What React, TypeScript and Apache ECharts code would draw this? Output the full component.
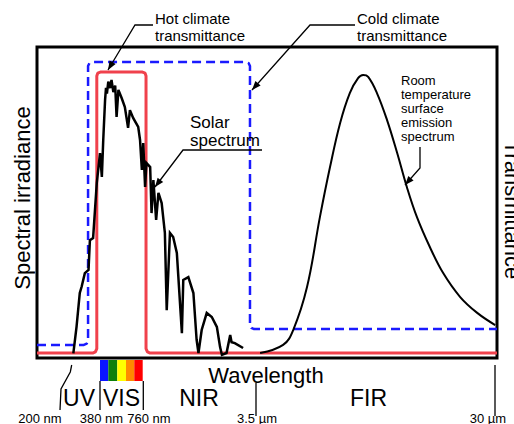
import React, { useEffect, useRef } from "react";
import * as echarts from "echarts";

// Schematic wavelength position (0-100 across the plot) vs relative intensity (0-100)
const solarX = [7.9, 8.6, 9.3, 9.7, 10.4, 11.2, 11.5, 12.2, 13.0, 13.7, 14.1, 14.4, 14.8, 15.0, 15.2, 15.5, 15.9, 16.2, 16.6, 17.0, 17.3, 17.7, 18.4, 19.1, 19.8, 20.2, 20.9, 22.0, 22.4, 22.8, 23.1, 23.5, 23.8, 24.6, 24.9, 25.3, 25.9, 26.4, 27.1, 27.8, 28.2, 28.9, 29.6, 30.4, 31.5, 31.8, 32.9, 34.0, 34.7, 35.1, 35.8, 36.9, 38.0, 39.1, 39.8, 40.2, 41.2, 42.0, 42.3, 43.0, 44.8];
const solarY = [1.5, 10.1, 20.9, 22.9, 27.3, 28.3, 37.9, 38.6, 56.3, 65.9, 58.2, 70.1, 83.0, 86.9, 85.0, 88.9, 86.8, 89.4, 85.5, 87.6, 77.5, 86.2, 83.6, 80.7, 74.0, 79.7, 77.2, 74.3, 70.1, 60.5, 69.1, 55.0, 62.7, 61.4, 46.6, 57.2, 44.4, 53.1, 49.8, 40.2, 15.4, 40.2, 38.9, 33.8, 8.0, 25.1, 26.0, 20.9, 5.8, 1.6, 9.0, 14.5, 13.2, 10.0, 3.5, 1.0, 1.6, 7.4, 5.1, 4.8, 3.2];
const emissionX = [48.5, 53.5, 55.7, 58.7, 61.5, 63.7, 65.9, 68.0, 69.8, 70.9, 72.0, 73.9, 76.1, 78.3, 80.4, 82.6, 85.4, 88.3, 92.0, 95.7, 99.6];
const emissionY = [1.6, 4.2, 9.0, 22.8, 45.3, 61.4, 75.6, 85.2, 90.0, 91.0, 90.4, 85.2, 76.5, 65.9, 55.0, 45.3, 35.7, 27.3, 19.6, 14.5, 10.6];
const hotX = [0, 12.1, 12.7, 13.0, 13.0, 13.2, 13.9, 22.8, 23.5, 23.7, 23.7, 24.0, 24.6, 100];
const hotY = [1.6, 1.6, 2.0, 3.0, 90.7, 91.6, 92.0, 92.0, 91.6, 90.7, 3.0, 2.0, 1.6, 1.6];
const coldX = [0, 10.2, 10.8, 11.1, 11.1, 11.4, 12.0, 45.4, 46.0, 46.3, 46.3, 46.6, 47.2, 100];
const coldY = [4.2, 4.2, 4.6, 5.5, 93.9, 94.8, 95.2, 95.2, 94.8, 93.9, 10.6, 9.7, 9.3, 9.3];

const regionLabels = ["UV", "VIS", "NIR", "FIR"];
const tickLabels = ["200 nm", "380 nm", "760 nm", "3.5 µm", "30 µm"];
const spectrumColors = ["#0a14ff", "#0c800c", "#ffff00", "#ff8a00", "#ff0000"];
const annotations = ["Hot climate\ntransmittance", "Cold climate\ntransmittance", "Solar\nspectrum", "Room\ntemperature\nsurface\nemission\nspectrum"];

const FONT = '"Liberation Sans", Arial, Helvetica, sans-serif';

const zip = (xs: number[], ys: number[]) => xs.map((x, i) => [x, ys[i]]);

function arrowHead(x1: number, y1: number, x2: number, y2: number, len = 9, half = 3.5) {
  const dx = x2 - x1, dy = y2 - y1;
  const d = Math.hypot(dx, dy);
  const ux = dx / d, uy = dy / d;
  const bx = x2 - ux * len, by = y2 - uy * len;
  return {
    type: "polygon",
    shape: { points: [[x2, y2], [bx - uy * half, by + ux * half], [bx + uy * half, by - ux * half]] },
    style: { fill: "#000" },
    z: 10,
  };
}

function leader(points: number[][]) {
  const n = points.length;
  return [
    { type: "polyline", shape: { points }, style: { stroke: "#000", lineWidth: 1.3, fill: null }, z: 10 },
    arrowHead(points[n - 2][0], points[n - 2][1], points[n - 1][0], points[n - 1][1]),
  ];
}

function txt(text: string, x: number, y: number, size: number, align = "center", vAlign = "middle", lineHeight?: number, rotation = 0) {
  return {
    type: "text",
    x,
    y,
    rotation,
    z: 10,
    style: {
      text,
      fill: "#000",
      fontSize: size,
      fontFamily: FONT,
      align,
      verticalAlign: vAlign,
      textAlign: align,
      textVerticalAlign: vAlign,
      lineHeight: lineHeight ?? Math.round(size * 1.15),
    },
  };
}

function vline(points: number[][]) {
  return { type: "polyline", shape: { points }, style: { stroke: "#000", lineWidth: 1.3, fill: null }, z: 10 };
}

export default function App() {
  const ref = useRef<HTMLDivElement>(null);
  useEffect(() => {
    if (!ref.current) return;
    const chart = echarts.init(ref.current, null, { renderer: "svg" });

    const barX = [100, 108.3, 117.3, 126, 134.3, 142.7];
    const spectrumRects = spectrumColors.map((c, i) => ({
      type: "rect",
      shape: { x: barX[i], y: 360, width: barX[i + 1] - barX[i], height: 21 },
      style: { fill: c },
      z: 5,
    }));

    const regionPos = [[79, 398], [121.5, 398], [199, 398], [368.5, 398]];
    const tickPos = [40, 101.5, 149, 257, 488];

    const graphic: any[] = [
      ...spectrumRects,
      vline([[71.7, 365], [70.3, 372], [61, 389], [60, 410]]),
      vline([[100, 381], [100, 410]]),
      vline([[143.3, 381], [143.3, 410]]),
      vline([[256, 383], [256, 416]]),
      vline([[495, 365], [495, 416]]),
      txt("Wavelength", 266, 375, 22),
      ...regionLabels.map((t, i) => txt(t, regionPos[i][0], regionPos[i][1], 23)),
      ...tickLabels.map((t, i) => txt(t, tickPos[i], 418, 13)),
      txt("Spectral irradiance", 22, 198, 22, "center", "middle", 24, Math.PI / 2),
      txt("Transmittance", 512, 210, 22, "center", "middle", 24, -Math.PI / 2),
      txt(annotations[0], 155, 9.5, 15, "left", "top", 17),
      txt(annotations[1], 357, 9.5, 15, "left", "top", 17),
      txt(annotations[2], 190, 113, 17, "left", "top", 18),
      txt(annotations[3], 401, 73, 13, "left", "top", 14),
      ...leader([[153, 25], [135, 25], [108, 70]]),
      ...leader([[355, 25], [310, 25], [252, 90]]),
      ...leader([[262, 150], [183, 150], [155, 187]]),
      ...leader([[420, 147], [420, 168], [405, 185]]),
    ];

    chart.setOption({
      animation: false,
      backgroundColor: "#fff",
      grid: {
        left: 37,
        top: 47,
        width: 460,
        height: 311,
        show: true,
        borderColor: "#000",
        borderWidth: 3,
        backgroundColor: "transparent",
      },
      xAxis: { type: "value", min: 0, max: 100, show: false },
      yAxis: { type: "value", min: 0, max: 100, show: false },
      series: [
        {
          name: "Cold climate transmittance",
          type: "line",
          data: zip(coldX, coldY),
          symbol: "none",
          lineStyle: { color: "#1a1aff", width: 2.5, type: [9, 5] },
        },
        {
          name: "Hot climate transmittance",
          type: "line",
          data: zip(hotX, hotY),
          symbol: "none",
          lineStyle: { color: "#f0414c", width: 3 },
        },
        {
          name: "Solar spectrum",
          type: "line",
          data: zip(solarX, solarY),
          symbol: "none",
          lineStyle: { color: "#000", width: 2.5, join: "miter" },
        },
        {
          name: "Room temperature surface emission spectrum",
          type: "line",
          data: zip(emissionX, emissionY),
          symbol: "none",
          smooth: 0.4,
          lineStyle: { color: "#000", width: 2 },
        },
      ],
      graphic,
    });
    return () => chart.dispose();
  }, []);
  return <div ref={ref} style={{ position: "fixed", left: 0, top: 0, width: 514, height: 424 }} />;
}
